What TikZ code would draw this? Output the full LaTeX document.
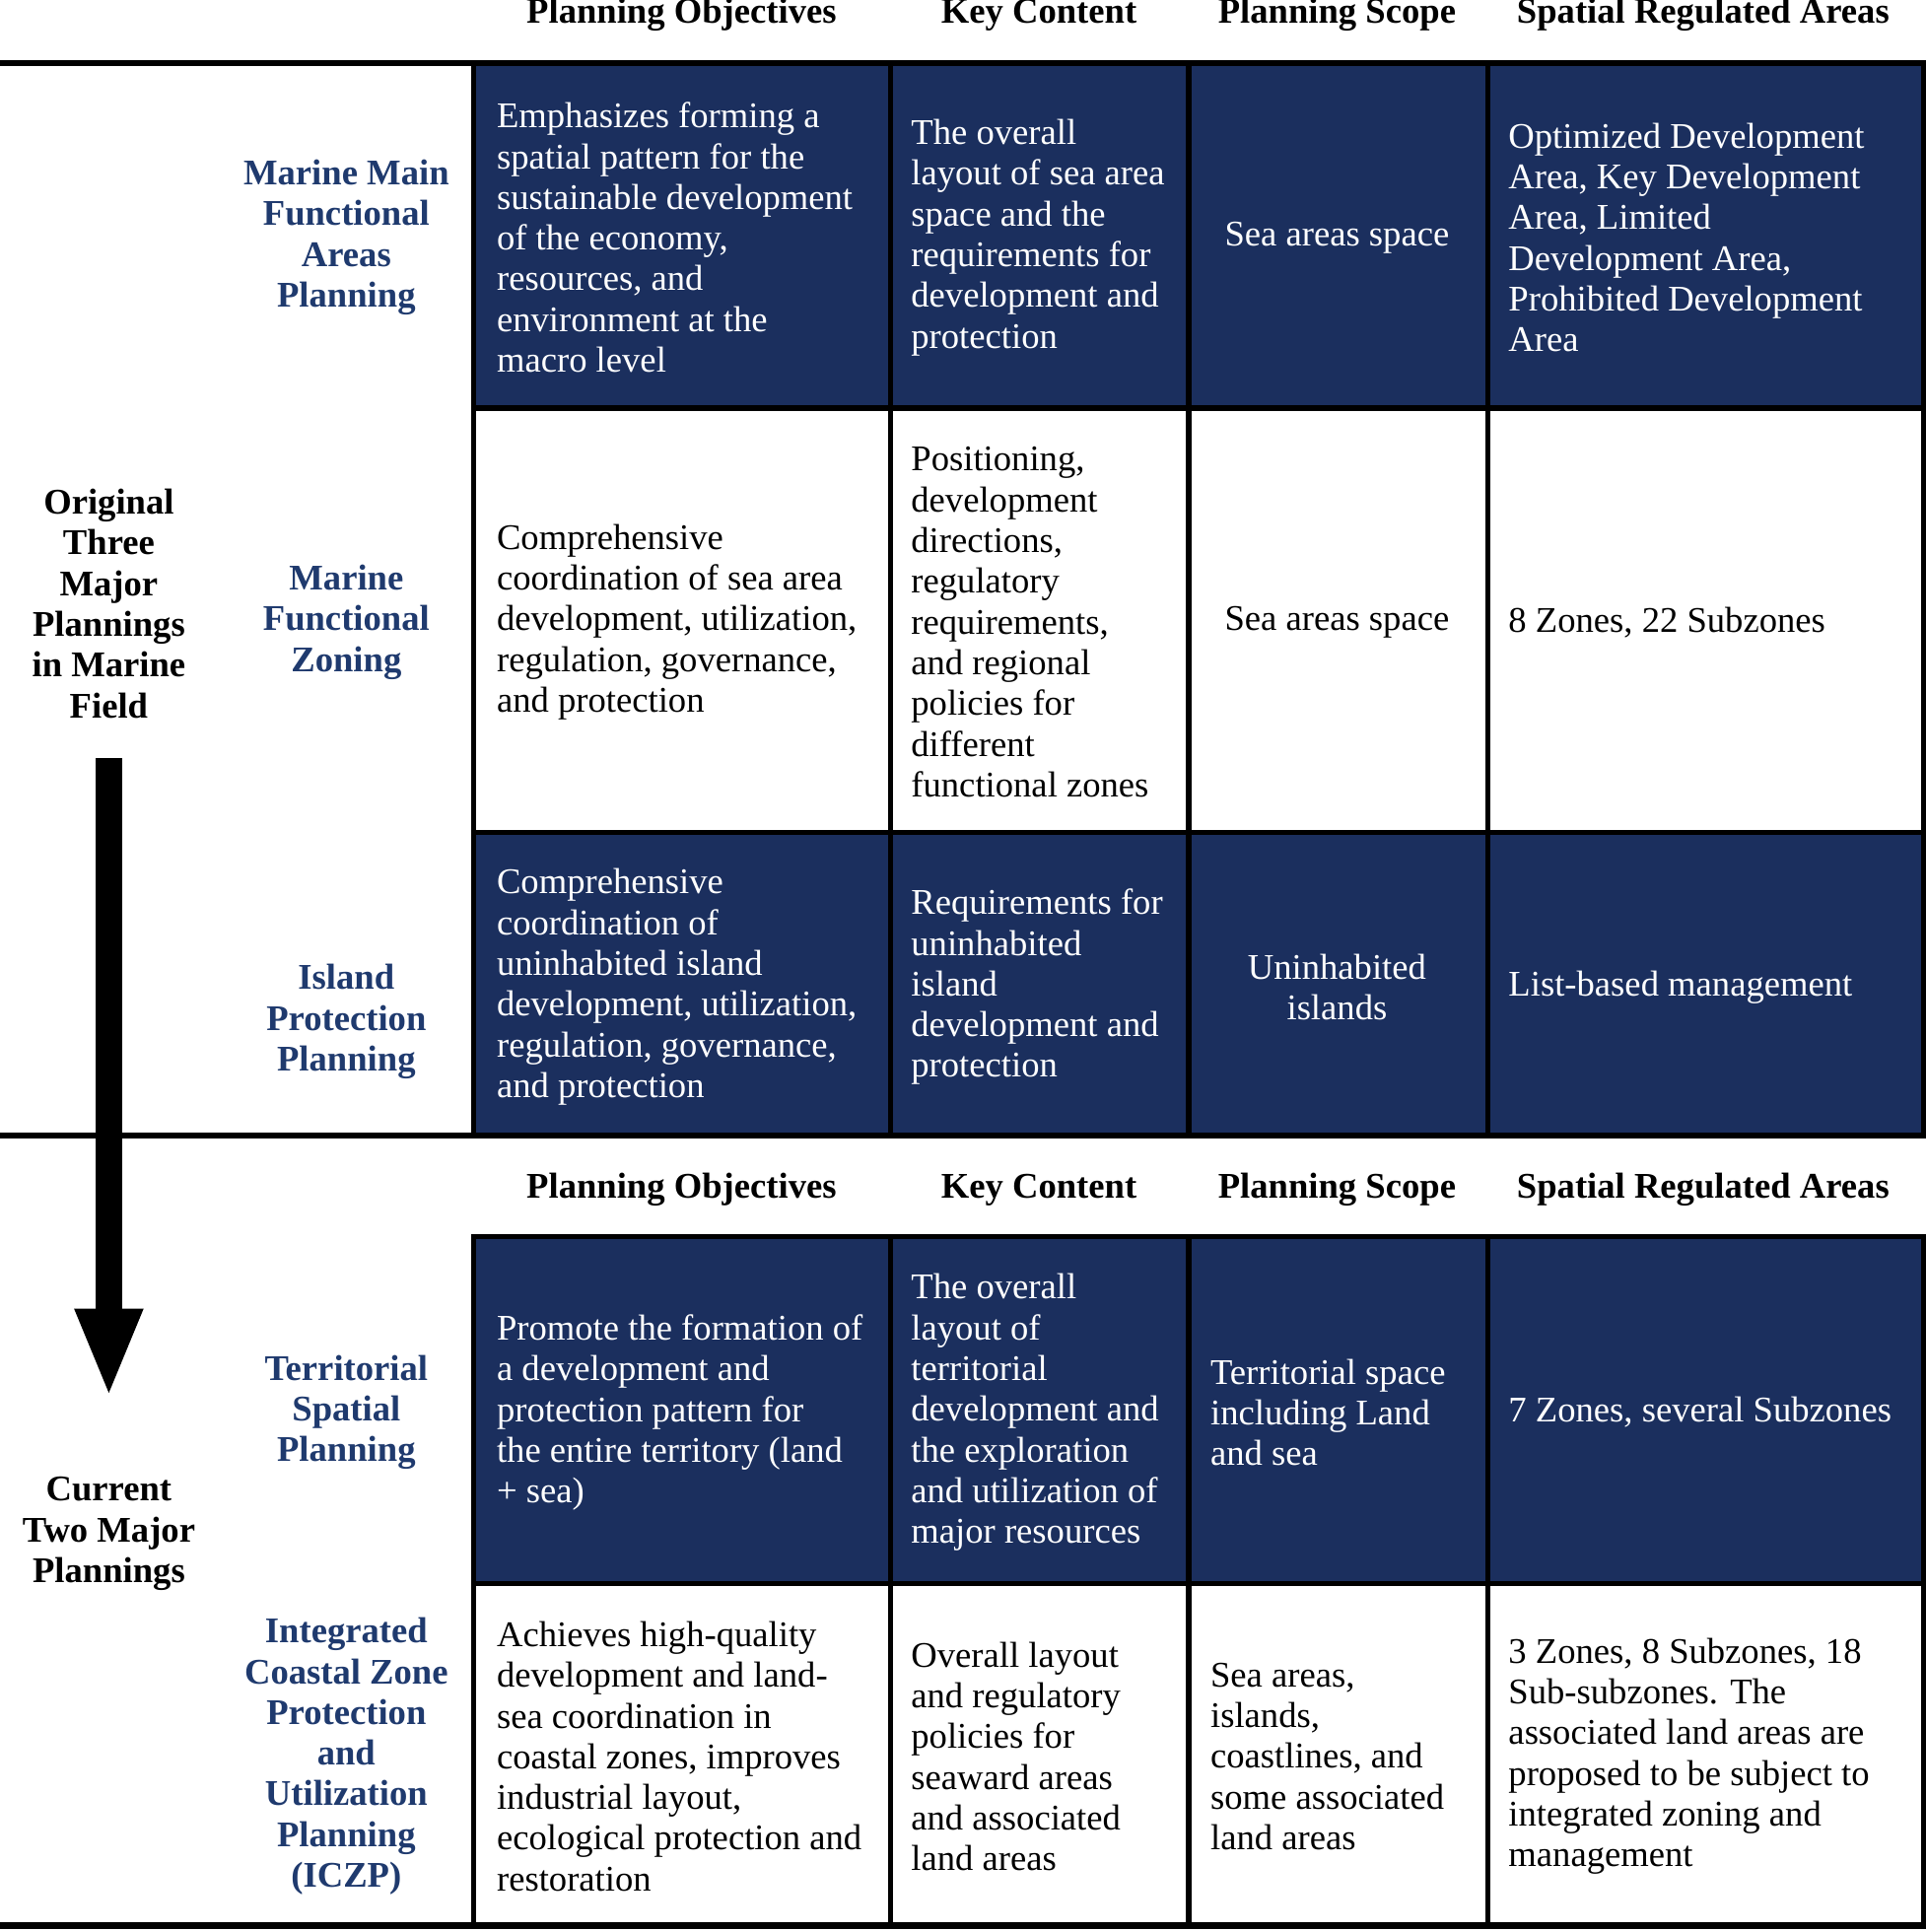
\documentclass[tikz,border=0pt]{standalone}
\usepackage{fontspec}
\setmainfont{Liberation Serif}
\usetikzlibrary{positioning, arrows.meta}
\definecolor{navy}{HTML}{1B2F5E}
\definecolor{labelblue}{HTML}{1F3A6E}
\begin{document}
\begin{tikzpicture}[x=0.01cm,y=-0.01cm,
    darkcell/.style={fill=navy, draw=black, line width=1.2pt},
    txt/.style={anchor=west, align=left, inner sep=0pt, font=\fontsize{8.3}{9.36}\selectfont},
    whitetxt/.style={txt, text=white},
    centertxt/.style={anchor=center, align=center, inner sep=0pt, font=\fontsize{8.3}{9.36}\selectfont},
    head/.style={anchor=center, inner sep=0pt, font=\fontsize{8.3}{9.36}\selectfont\bfseries},
    rowlabel/.style={anchor=center, align=center, inner sep=0pt, text=labelblue, font=\fontsize{8.3}{9.36}\selectfont\bfseries},
    rule/.style={line width=1.5pt}
]
\useasboundingbox (0,0) rectangle (1557,1562);

% dark blocks
\foreach \ya/\yb in {51/330, 673/918, 1000/1280}{
  \foreach \xa/\xb in {383/720, 720/961, 961/1203, 1203/1555}
    \draw[darkcell] (\xa,\ya) rectangle (\xb,\yb);
}
% white rows
\foreach \ya/\yb in {330/673, 1280/1557}{
  \foreach \xx in {383,720,961,1203,1555}
    \draw[line width=1.2pt] (\xx,\ya) -- (\xx,\yb);
}
\draw[rule] (0,51) -- (1557,51);
\draw[rule] (0,918) -- (1557,918);
\draw[rule] (0,1557) -- (1557,1557);

% headers
\foreach \yy/\k in {12/a, 962/b}{
  \node[head] (obj\k) at (551,\yy) {Planning Objectives};
  \node[head] (key\k) at (840,\yy) {Key Content};
  \node[head] (scope\k) at (1081,\yy) {Planning Scope};
  \node[head] (area\k) at (1377,\yy) {Spatial Regulated Areas};
}

% left labels
\node[rowlabel, text=black] (orig) at (88,488) {Original\\Three\\Major\\Plannings\\in Marine\\Field};
\node[rowlabel, text=black] (curr) at (88,1240) {Current\\Two Major\\Plannings};
\coordinate (arrtop) at (88,613);
\coordinate (arrbot) at (88,1130);
\draw[line width=0.22cm, -{Triangle[width=0.5cm,length=0.72cm]}] (arrtop) -- (arrbot);

\node[rowlabel] (mmfa) at (280,192) {Marine Main\\Functional\\Areas\\Planning};
\node[rowlabel] (mfz) at (280,503) {Marine\\Functional\\Zoning};
\node[rowlabel] (ipp) at (280,826) {Island\\Protection\\Planning};
\node[rowlabel] (tsp) at (280,1142) {Territorial\\Spatial\\Planning};
\node[rowlabel] (iczp) at (280,1420) {Integrated\\Coastal Zone\\Protection\\and\\Utilization\\Planning\\(ICZP)};

% row 1
\node[whitetxt] (r1a) at (401,192) {Emphasizes forming a\\spatial pattern for the\\sustainable development\\of the economy,\\resources, and\\environment at the\\macro level};
\node[whitetxt] (r1b) at (736,192) {The overall\\layout of sea area\\space and the\\requirements for\\development and\\protection};
\node[centertxt, text=white] (r1c) at (1081,192) {Sea areas space};
\node[whitetxt] (r1d) at (1219,192) {Optimized Development\\Area, Key Development\\Area, Limited\\Development Area,\\Prohibited Development\\Area};
% row 2
\node[txt] (r2a) at (401,503) {Comprehensive\\coordination of sea area\\development, utilization,\\regulation, governance,\\and protection};
\node[txt] (r2b) at (736,503) {Positioning,\\development\\directions,\\regulatory\\requirements,\\and regional\\policies for\\different\\functional zones};
\node[centertxt] (r2c) at (1081,503) {Sea areas space};
\node[txt] (r2d) at (1219,503) {8 Zones, 22 Subzones};
% row 3
\node[whitetxt] (r3a) at (401,798) {Comprehensive\\coordination of\\uninhabited island\\development, utilization,\\regulation, governance,\\and protection};
\node[whitetxt] (r3b) at (736,798) {Requirements for\\uninhabited\\island\\development and\\protection};
\node[centertxt, text=white] (r3c) at (1081,798) {Uninhabited\\islands};
\node[whitetxt] (r3d) at (1219,798) {List-based management};
% row 4
\node[whitetxt] (r4a) at (401,1142) {Promote the formation of\\a development and\\protection pattern for\\the entire territory (land\\+ sea)};
\node[whitetxt] (r4b) at (736,1142) {The overall\\layout of\\territorial\\development and\\the exploration\\and utilization of\\major resources};
\node[whitetxt] (r4c) at (978,1142) {Territorial space\\including Land\\and sea};
\node[whitetxt] (r4d) at (1219,1142) {7 Zones, several Subzones};
% row 5
\node[txt] (r5a) at (401,1420) {Achieves high-quality\\development and land-\\sea coordination in\\coastal zones, improves\\industrial layout,\\ecological protection and\\restoration};
\node[txt] (r5b) at (736,1420) {Overall layout\\and regulatory\\policies for\\seaward areas\\and associated\\land areas};
\node[txt] (r5c) at (978,1420) {Sea areas,\\islands,\\coastlines, and\\some associated\\land areas};
\node[txt] (r5d) at (1219,1420) {3 Zones, 8 Subzones, 18\\Sub-subzones. The\\associated land areas are\\proposed to be subject to\\integrated zoning and\\management};
\end{tikzpicture}
\end{document}
